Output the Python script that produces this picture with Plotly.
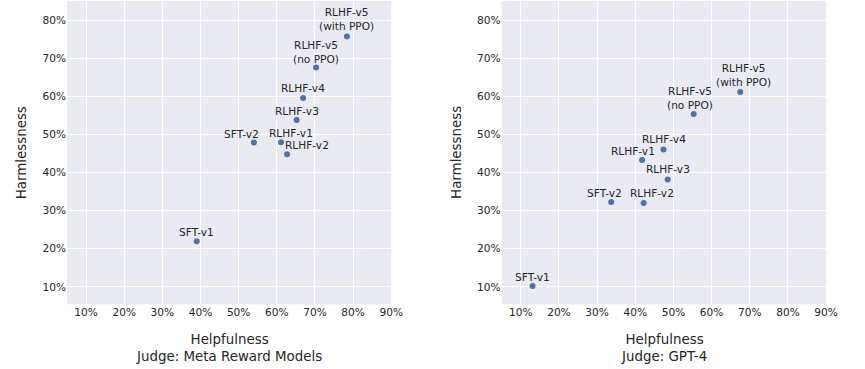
import plotly.graph_objects as go

# ---- data ----
models = ["SFT-v1", "SFT-v2", "RLHF-v1", "RLHF-v2", "RLHF-v3", "RLHF-v4",
          "RLHF-v5<br>(no PPO)", "RLHF-v5<br>(with PPO)"]
meta_helpfulness = [0.390, 0.540, 0.611, 0.627, 0.652, 0.669, 0.703, 0.784]
meta_harmlessness = [0.220, 0.479, 0.480, 0.448, 0.538, 0.596, 0.676, 0.758]
gpt4_helpfulness = [0.131, 0.337, 0.418, 0.422, 0.485, 0.474, 0.553, 0.675]
gpt4_harmlessness = [0.102, 0.323, 0.433, 0.320, 0.382, 0.461, 0.554, 0.612]
x_ticks = [0.1, 0.2, 0.3, 0.4, 0.5, 0.6, 0.7, 0.8, 0.9]
y_ticks = [0.1, 0.2, 0.3, 0.4, 0.5, 0.6, 0.7, 0.8]
judges = ["Judge: Meta Reward Models", "Judge: GPT-4"]

# label offsets in pixels (dx, dy up) -- styling only
meta_offsets = [(0, 9), (-12, 9), (10, 9), (20, 9), (0, 9), (0, 10), (0, 16), (0, 17)]
gpt4_offsets = [(0, 9), (-7, 9), (-9, 9), (8, 10), (0, 10), (0, 10), (-4, 16), (3, 17)]

TXT = "#262626"
FONT = "DejaVu Sans"
DOT = "#4C72B0"

fig = go.Figure()
panels = [
    (meta_helpfulness, meta_harmlessness, meta_offsets, "x", "y"),
    (gpt4_helpfulness, gpt4_harmlessness, gpt4_offsets, "x2", "y2"),
]
annotations = []
for xs, ys, offs, xa, ya in panels:
    fig.add_trace(go.Scatter(x=xs, y=ys, mode="markers", xaxis=xa, yaxis=ya,
                             marker=dict(color=DOT, size=6, line=dict(width=0)),
                             showlegend=False, hoverinfo="skip"))
    for m, xv, yv, (dx, dy) in zip(models, xs, ys, offs):
        annotations.append(dict(x=xv, y=yv, xref=xa, yref=ya, text=m, showarrow=False,
                                xshift=dx, yshift=dy, xanchor="center", yanchor="middle",
                                font=dict(family=FONT, size=10.6, color=TXT)))

domains_x = [[0.0786, 0.4586], [0.5881, 0.9685]]
ydom = [0.1753, 0.9973]
for i, (dom, judge) in enumerate(zip(domains_x, judges)):
    cx = (dom[0] + dom[1]) / 2
    annotations.append(dict(x=cx, y=0.057, xref="paper", yref="paper", showarrow=False,
                            text="Helpfulness<br>" + judge, xanchor="center", yanchor="middle",
                            font=dict(family=FONT, size=13.4, color=TXT)))
    annotations.append(dict(x=dom[0] - 46 / 865, y=(ydom[0] + ydom[1]) / 2, xref="paper", yref="paper",
                            showarrow=False, text="Harmlessness", textangle=-90,
                            xanchor="center", yanchor="middle",
                            font=dict(family=FONT, size=13.4, color=TXT)))

axis_common = dict(showgrid=True, gridcolor="white", gridwidth=1, zeroline=False,
                   showline=False, ticks="", tickformat=".0%",
                   tickfont=dict(family=FONT, size=10.6, color=TXT))
fig.update_layout(
    width=865, height=369,
    margin=dict(l=0, r=0, t=0, b=0),
    paper_bgcolor="white", plot_bgcolor="#EAEAF2",
    font=dict(family=FONT, color=TXT),
    xaxis=dict(domain=domains_x[0], range=[0.05, 0.90], tickvals=x_ticks, anchor="y", **axis_common),
    yaxis=dict(domain=ydom, range=[0.054, 0.851], tickvals=y_ticks, anchor="x", **axis_common),
    xaxis2=dict(domain=domains_x[1], range=[0.05, 0.90], tickvals=x_ticks, anchor="y2", **axis_common),
    yaxis2=dict(domain=ydom, range=[0.054, 0.851], tickvals=y_ticks, anchor="x2", **axis_common),
    annotations=annotations,
)
fig.write_html("out.html", config={"displayModeBar": False},
               post_script="document.body.style.margin='0';document.body.style.overflow='hidden';")
